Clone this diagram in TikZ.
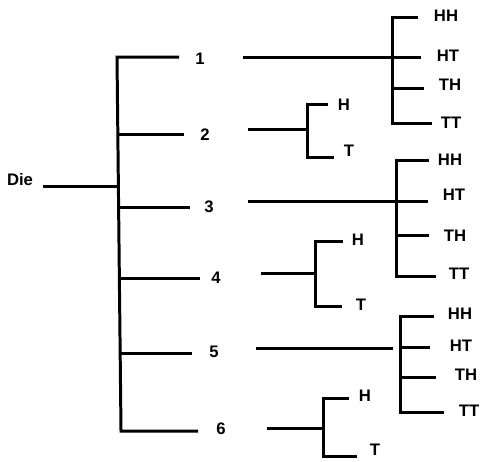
\documentclass[tikz,border=0pt]{standalone}
\usepackage{fontspec}
\setmainfont{Liberation Sans}
\begin{document}
\begin{tikzpicture}[x=0.02cm,y=-0.02cm,
  lbl/.style={font=\fontsize{9.5}{11}\selectfont\bfseries,inner sep=0pt},
  br/.style={line width=1.7pt,black,line join=miter}
]
\useasboundingbox (0,0) rectangle (482,461);
% the die
\node[lbl] (die) at (20,180) {Die};
\coordinate (die-e) at (43,186);
\coordinate (root) at (118,186);
\coordinate (a1) at (117,57);
\coordinate (a2) at (118,134);
\coordinate (a3) at (119,207);
\coordinate (a4) at (119,278);
\coordinate (a5) at (120,353);
\coordinate (a6) at (121,431);
\coordinate (b1) at (179,57);
\coordinate (b2) at (184,134);
\coordinate (b3) at (190,207);
\coordinate (b4) at (200,278);
\coordinate (b5) at (192,353);
\coordinate (b6) at (198,431);
\node[lbl] (n1) at (200,59) {1};
\node[lbl] (n2) at (205,135) {2};
\node[lbl] (n3) at (209,207) {3};
\node[lbl] (n4) at (216,278) {4};
\node[lbl] (n5) at (214,352) {5};
\node[lbl] (n6) at (221,429) {6};
\draw[br] (die-e) -- (root);
\draw[br] (b1) -- (a1) -- (a6) -- (b6);
\draw[br] (a2) -- (b2);
\draw[br] (a3) -- (b3);
\draw[br] (a4) -- (b4);
\draw[br] (a5) -- (b5);

% 1: two coins
\coordinate (c1) at (243,57);
\coordinate (j1) at (392,57);
\coordinate (j1t) at (392,17);
\coordinate (j1m) at (392,88);
\coordinate (j1b) at (392,123);
\coordinate (hh1e) at (418,17);
\coordinate (ht1e) at (421,57);
\coordinate (th1e) at (424,88);
\coordinate (tt1e) at (432,123);
\node[lbl] (hh1) at (446,16) {HH};
\node[lbl] (ht1) at (448,56) {HT};
\node[lbl] (th1) at (450,85) {TH};
\node[lbl] (tt1) at (451,123) {TT};
\draw[br] (c1) -- (j1);
\draw[br] (hh1e) -- (j1t) -- (j1b) -- (tt1e);
\draw[br] (j1) -- (ht1e);
\draw[br] (j1m) -- (th1e);

% 2: one coin
\coordinate (c2) at (248,129);
\coordinate (j2) at (307,129);
\coordinate (j2t) at (307,104);
\coordinate (j2b) at (307,157);
\coordinate (h2e) at (328,104);
\coordinate (t2e) at (334,157);
\node[lbl] (h2) at (344,105) {H};
\node[lbl] (t2) at (349,151) {T};
\draw[br] (c2) -- (j2);
\draw[br] (h2e) -- (j2t) -- (j2b) -- (t2e);

% 3: two coins
\coordinate (c3) at (248,201);
\coordinate (j3) at (396,201);
\coordinate (j3t) at (396,160);
\coordinate (j3m) at (396,235);
\coordinate (j3b) at (396,276);
\coordinate (hh3e) at (429,160);
\coordinate (ht3e) at (428,201);
\coordinate (th3e) at (429,235);
\coordinate (tt3e) at (436,276);
\node[lbl] (hh3) at (450,160) {HH};
\node[lbl] (ht3) at (454,195) {HT};
\node[lbl] (th3) at (455,236) {TH};
\node[lbl] (tt3) at (459,274) {TT};
\draw[br] (c3) -- (j3);
\draw[br] (hh3e) -- (j3t) -- (j3b) -- (tt3e);
\draw[br] (j3) -- (ht3e);
\draw[br] (j3m) -- (th3e);

% 4: one coin
\coordinate (c4) at (261,273);
\coordinate (j4) at (315,273);
\coordinate (j4t) at (315,241);
\coordinate (j4b) at (315,306);
\coordinate (h4e) at (343,241);
\coordinate (t4e) at (342,306);
\node[lbl] (h4) at (358,240) {H};
\node[lbl] (t4) at (361,305) {T};
\draw[br] (c4) -- (j4);
\draw[br] (h4e) -- (j4t) -- (j4b) -- (t4e);

% 5: two coins
\coordinate (c5) at (256,348);
\coordinate (d5) at (393,348);
\coordinate (j5) at (400,347);
\coordinate (j5t) at (400,316);
\coordinate (j5m) at (400,377);
\coordinate (j5b) at (400,412);
\coordinate (hh5e) at (434,316);
\coordinate (ht5e) at (430,347);
\coordinate (th5e) at (436,377);
\coordinate (tt5e) at (444,412);
\node[lbl] (hh5) at (460,314) {HH};
\node[lbl] (ht5) at (461,346) {HT};
\node[lbl] (th5) at (466,375) {TH};
\node[lbl] (tt5) at (469,411) {TT};
\draw[br] (c5) -- (d5);
\draw[br] (hh5e) -- (j5t) -- (j5b) -- (tt5e);
\draw[br] (j5) -- (ht5e);
\draw[br] (j5m) -- (th5e);

% 6: one coin
\coordinate (c6) at (267,428);
\coordinate (j6) at (323,428);
\coordinate (j6t) at (323,398);
\coordinate (j6b) at (323,456);
\coordinate (h6e) at (349,398);
\coordinate (t6e) at (357,456);
\node[lbl] (h6) at (365,396) {H};
\node[lbl] (t6) at (375,450) {T};
\draw[br] (c6) -- (j6);
\draw[br] (h6e) -- (j6t) -- (j6b) -- (t6e);
\end{tikzpicture}
\end{document}
